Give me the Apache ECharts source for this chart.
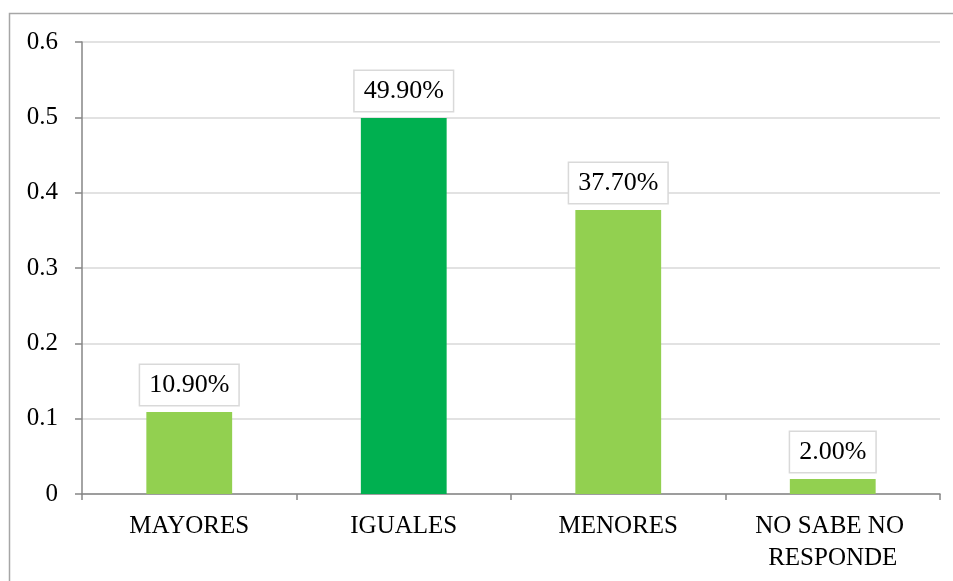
<!DOCTYPE html>
<html>
<head>
<meta charset="utf-8">
<script src="https://cdn.jsdelivr.net/npm/echarts@6/dist/echarts.min.js"></script>
<style>
  html, body { margin: 0; padding: 0; background: #fff; }
  #chart { width: 953px; height: 581px; }
</style>
</head>
<body>
<div id="chart"></div>
<script>
// Survey answers and their shares
const categories = ['MAYORES', 'IGUALES', 'MENORES', 'NO SABE NO RESPONDE'];
const shares = [0.109, 0.499, 0.377, 0.02];
const barColors = ['#92D050', '#00B050', '#92D050', '#92D050'];

const serif = '"Liberation Serif", "DejaVu Serif", serif';

const chart = echarts.init(document.getElementById('chart'));

chart.setOption({
  backgroundColor: '#ffffff',
  animation: false,
  grid: { left: 82, right: 13, top: 42, bottom: 87 },
  xAxis: {
    type: 'category',
    data: categories,
    boundaryGap: true,
    axisLine: { lineStyle: { color: '#868686', width: 1.5 } },
    axisTick: { show: true, length: 6, lineStyle: { color: '#868686', width: 1.5 } },
    axisLabel: {
      color: '#000',
      fontFamily: serif,
      fontSize: 25,
      margin: 16,
      lineHeight: 32,
      width: 180,
      overflow: 'break',
      interval: 0
    }
  },
  yAxis: {
    type: 'value',
    min: 0,
    max: 0.6,
    interval: 0.1,
    axisLine: { show: true, lineStyle: { color: '#868686', width: 1.5 } },
    axisTick: { show: true, length: 7, lineStyle: { color: '#868686', width: 1.5 } },
    splitLine: { lineStyle: { color: '#d9d9d9', width: 1.5 } },
    axisLabel: {
      color: '#000',
      fontFamily: serif,
      fontSize: 25,
      margin: 24,
      formatter: v => String(Math.round(v * 10) / 10)
    }
  },
  series: [{
    type: 'bar',
    barWidth: '40%',
    data: shares.map((v, i) => ({ value: v, itemStyle: { color: barColors[i] } })),
    label: {
      show: true,
      position: 'top',
      distance: 7,
      color: '#000',
      fontFamily: serif,
      fontSize: 26,
      lineHeight: 28,
      backgroundColor: '#fff',
      borderColor: '#d9d9d9',
      borderWidth: 1.5,
      padding: [6, 9],
      formatter: p => (p.value * 100).toFixed(2) + '%'
    }
  }]
});

// Outer chart frame and the right edge of the plot area, placed from the grid's own scale
const topRight = chart.convertToPixel({ gridIndex: 0 }, [3.5, 0.6]);
const bottomRight = chart.convertToPixel({ gridIndex: 0 }, [3.5, 0]);
chart.setOption({
  graphic: [{
    type: 'rect',
    shape: { x: 9.5, y: 13.5, width: 1000, height: 700 },
    style: { fill: 'none', stroke: '#a6a6a6', lineWidth: 1.5 },
    silent: true,
    z: -10
  }, {
    type: 'line',
    shape: { x1: topRight[0] + 107, y1: topRight[1], x2: bottomRight[0] + 107, y2: bottomRight[1] },
    style: { stroke: '#d9d9d9', lineWidth: 1.5 },
    silent: true
  }]
});
</script>
</body>
</html>
